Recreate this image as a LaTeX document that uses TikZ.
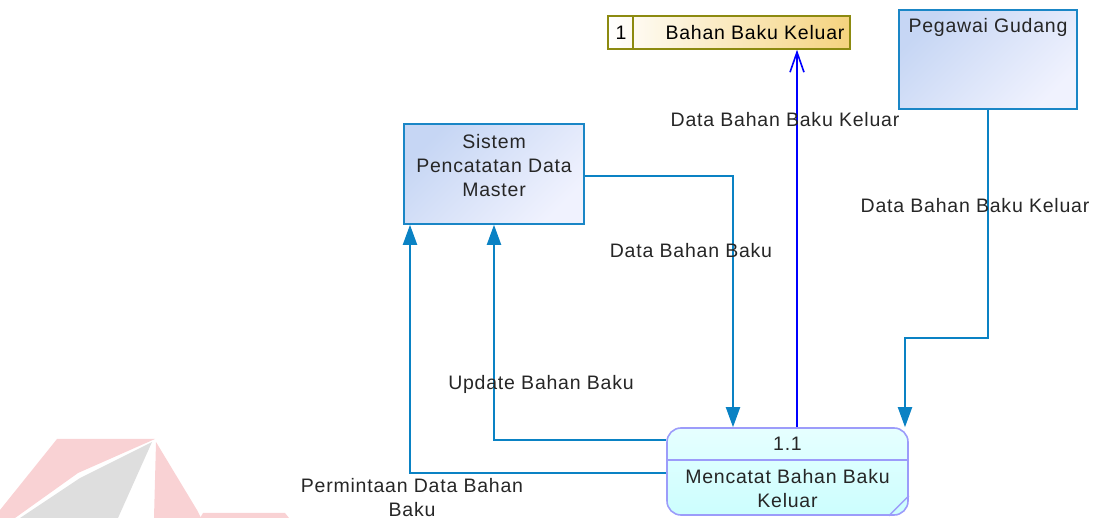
\documentclass[tikz,border=0pt]{standalone}
\usepackage{fontspec}
\setmainfont{Liberation Sans}[LetterSpace=4]
\usetikzlibrary{arrows.meta,calc}
\definecolor{flowc}{HTML}{0A82C4}
\definecolor{entbd}{HTML}{1A86C6}
\definecolor{entA}{HTML}{C6D6F4}
\definecolor{entB}{HTML}{F0F2FE}
\definecolor{stbd}{HTML}{8C8A10}
\definecolor{stB}{HTML}{F5D37E}
\definecolor{prbd}{HTML}{9C9CFA}
\definecolor{prA}{HTML}{E6FFFF}
\definecolor{prB}{HTML}{CCFEFE}
\definecolor{txt}{HTML}{262626}
\definecolor{wmpink}{HTML}{F9D2D4}
\definecolor{wmgray}{HTML}{DEDEDE}
\tikzset{
  lbl/.style={font=\fontsize{19.5}{24}\selectfont, text=txt, inner sep=0pt, align=center},
  entity/.style={draw=entbd, line width=1.6pt, bottom color=entB, top color=entA, shading angle=45, inner sep=0pt},
  flow/.style={draw=flowc, line width=2pt, -{Triangle[length=20pt,width=14pt]}},
  storeflow/.style={draw=blue, line width=1.6pt, -{Straight Barb[length=20pt,width=14pt,line width=1.6pt]}},
}
\begin{document}
\begin{tikzpicture}[x=1pt,y=-1pt]
\useasboundingbox (0,0) rectangle (1093,518);
% watermark
\fill[wmpink] (57,439) -- (155,439) -- (78,473) -- (15,518) -- (0,518) -- (0,510) -- cycle;
\fill[wmgray] (152,442) -- (80,478) -- (20,518) -- (118,518) -- cycle;
\fill[wmpink] (156,442) -- (197,510) -- (201,518) -- (154,518) -- cycle;
\fill[wmpink] (203,513) -- (285,513) -- (289,518) -- (200,518) -- cycle;
% nodes
\node[entity, minimum width=180pt, minimum height=100pt] (sys) at (494,174) {};
\node[lbl] (systxt) at (494,166) {Sistem\\Pencatatan Data\\Master};
\node[entity, minimum width=178pt, minimum height=99pt] (peg) at (988,59.5) {};
\node[lbl] (pegtxt) at (988,27) {Pegawai Gudang};
\node[draw=stbd, line width=1.6pt, left color=white, right color=stB, minimum width=242pt, minimum height=33pt, inner sep=0pt] (store) at (729,32.5) {};
\draw[stbd, line width=1.6pt] ([xshift=26pt]store.north west) -- ([xshift=26pt]store.south west);
\node[lbl, text=black] (storeid) at (621,33) {1};
\node[lbl, text=black] (storetxt) at (755,33) {Bahan Baku Keluar};
\node[draw=prbd, line width=1.6pt, rounded corners=14pt, top color=prA, bottom color=prB, minimum width=241pt, minimum height=87pt, inner sep=0pt] (proc) at (787.5,471.5) {};
\draw[prbd, line width=1.6pt] ([yshift=-33pt]proc.north west) -- ([yshift=-33pt]proc.north east);
\draw[prbd, line width=1.4pt] ([xshift=-20pt]proc.south east) -- ([yshift=20pt]proc.south east);
\node[lbl] (procid) at (787.5,444) {1.1};
\node[lbl] (proctxt) at (787.5,489) {Mencatat Bahan Baku\\Keluar};
% connectors
\draw[flow] ([yshift=-2pt]sys.east) -| ([xshift=-54.5pt]proc.north);
\draw[flow] ([yshift=31.5pt]proc.west) -| (sys.south);
\draw[flow] ([yshift=-1.5pt]proc.west) -| ([xshift=-84pt]sys.south);
\draw[storeflow] ([xshift=9.5pt]proc.north) -- ([xshift=68pt]store.south);
\draw[flow] (peg.south) -- ++(0,228) -| ([xshift=117.5pt]proc.north);
% labels
\node[lbl] (l1) at (691,251) {Data Bahan Baku};
\node[lbl] (l2) at (541,384) {Update Bahan Baku};
\node[lbl] (l3) at (412,497.5) {Permintaan Data Bahan\\Baku};
\node[lbl] (l4) at (785,120) {Data Bahan Baku Keluar};
\node[lbl] (l5) at (975,206) {Data Bahan Baku Keluar};
\end{tikzpicture}
\end{document}
